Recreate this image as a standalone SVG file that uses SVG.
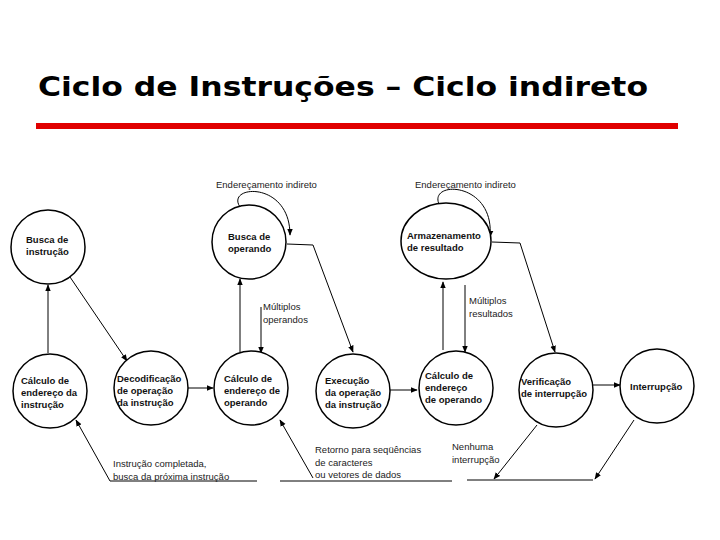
<svg xmlns="http://www.w3.org/2000/svg" width="720" height="540" viewBox="0 0 720 540">
<style>
.n{fill:#fff;stroke:#000;stroke-width:1.5}
.t{font-family:"Liberation Sans",Arial,sans-serif;font-size:9.5px;font-weight:bold;fill:#111}
.l{font-family:"Liberation Sans",Arial,sans-serif;font-size:9.5px;fill:#222}
.c{fill:none;stroke:#000;stroke-width:1;marker-end:url(#a)}
.p{fill:none;stroke:#000;stroke-width:1}
</style>
<defs><marker id="a" viewBox="0 0 10 10" refX="9" refY="5" markerWidth="7" markerHeight="7" orient="auto"><path d="M0,1 L10,5 L0,9 z" fill="#000"/></marker></defs>
<rect width="720" height="540" fill="#fff"/>
<text x="38" y="96" font-family="DejaVu Sans,Verdana,sans-serif" font-size="26" font-weight="bold" fill="#000" textLength="610" lengthAdjust="spacingAndGlyphs">Ciclo de Instruções – Ciclo indireto</text>
<rect x="36" y="123" width="642" height="6" fill="#e00000"/>
<g id="connectors">
<path class="c" d="M48,353 V285"/>
<path class="c" d="M70,277 L127,361"/>
<path class="c" d="M187,388 H213"/>
<path class="c" d="M240,352 V279"/>
<path class="c" d="M261,307 V353"/>
<path class="c" d="M287,244 L313,245 L353,352"/>
<path class="c" d="M240,207 C225,185 290,180 290,235"/>
<path class="c" d="M389,390 H417"/>
<path class="c" d="M443,350 V282"/>
<path class="c" d="M465,285 V352"/>
<path class="c" d="M492,242 L520,243 L555,352"/>
<path class="c" d="M440,206 C425,180 495,180 490,237"/>
<path class="c" d="M592,385 H620"/>
<path class="c" d="M537,425 L494,479"/>
<path class="c" d="M634,420 L595,479"/>
<path class="p" d="M467,480 H593"/>
<path class="p" d="M110,481 H257 M280,481 H452"/>
<path class="c" d="M110,481 L76,420"/>
<path class="c" d="M313,478 L280,420"/>
</g>
<g id="n1"><circle class="n" cx="48" cy="247" r="37"/><text class="t" x="26" y="243">Busca de</text><text class="t" x="26" y="255">instrução</text></g>
<g id="n2"><circle class="n" cx="249" cy="242" r="37"/><text class="t" x="228" y="240">Busca de</text><text class="t" x="228" y="252">operando</text></g>
<g id="n3"><ellipse class="n" cx="446" cy="241" rx="45" ry="38"/><text class="t" x="407" y="239">Armazenamento</text><text class="t" x="407" y="251">de resultado</text></g>
<g id="n4"><circle class="n" cx="50" cy="391" r="37"/><text class="t" x="21" y="384">Cálculo de</text><text class="t" x="21" y="396">endereço da</text><text class="t" x="21" y="408">instrução</text></g>
<g id="n5"><circle class="n" cx="151" cy="388" r="37"/><text class="t" x="117" y="382">Decodificação</text><text class="t" x="117" y="394">de operação</text><text class="t" x="117" y="406">da instrução</text></g>
<g id="n6"><circle class="n" cx="251" cy="388" r="37"/><text class="t" x="224" y="382">Cálculo de</text><text class="t" x="224" y="394">endereço de</text><text class="t" x="224" y="406">operando</text></g>
<g id="n7"><circle class="n" cx="353" cy="391" r="37"/><text class="t" x="325" y="384">Execução</text><text class="t" x="325" y="396">da operação</text><text class="t" x="325" y="408">da instrução</text></g>
<g id="n8"><circle class="n" cx="456" cy="388" r="37"/><text class="t" x="425" y="379">Cálculo de</text><text class="t" x="425" y="391">endereço</text><text class="t" x="425" y="403">de operando</text></g>
<g id="n9"><circle class="n" cx="556" cy="390" r="37"/><text class="t" x="521" y="385">Verificação</text><text class="t" x="521" y="397">de interrupção</text></g>
<g id="n10"><circle class="n" cx="657" cy="386" r="37"/><text class="t" x="630" y="390">Interrupção</text></g>
<g id="labels">
<text class="l" x="216" y="188">Endereçamento indireto</text>
<text class="l" x="415" y="188">Endereçamento indireto</text>
<text class="l" x="263" y="310">Múltiplos</text><text class="l" x="263" y="323">operandos</text>
<text class="l" x="469" y="304">Múltiplos</text><text class="l" x="469" y="317">resultados</text>
<text class="l" x="113" y="467">Instrução completada,</text><text class="l" x="113" y="480">busca da próxima instrução</text>
<text class="l" x="315" y="453">Retorno para seqüências</text><text class="l" x="315" y="466">de caracteres</text><text class="l" x="315" y="478">ou vetores de dados</text>
<text class="l" x="452" y="450">Nenhuma</text><text class="l" x="452" y="463">interrupção</text>
</g>
</svg>
